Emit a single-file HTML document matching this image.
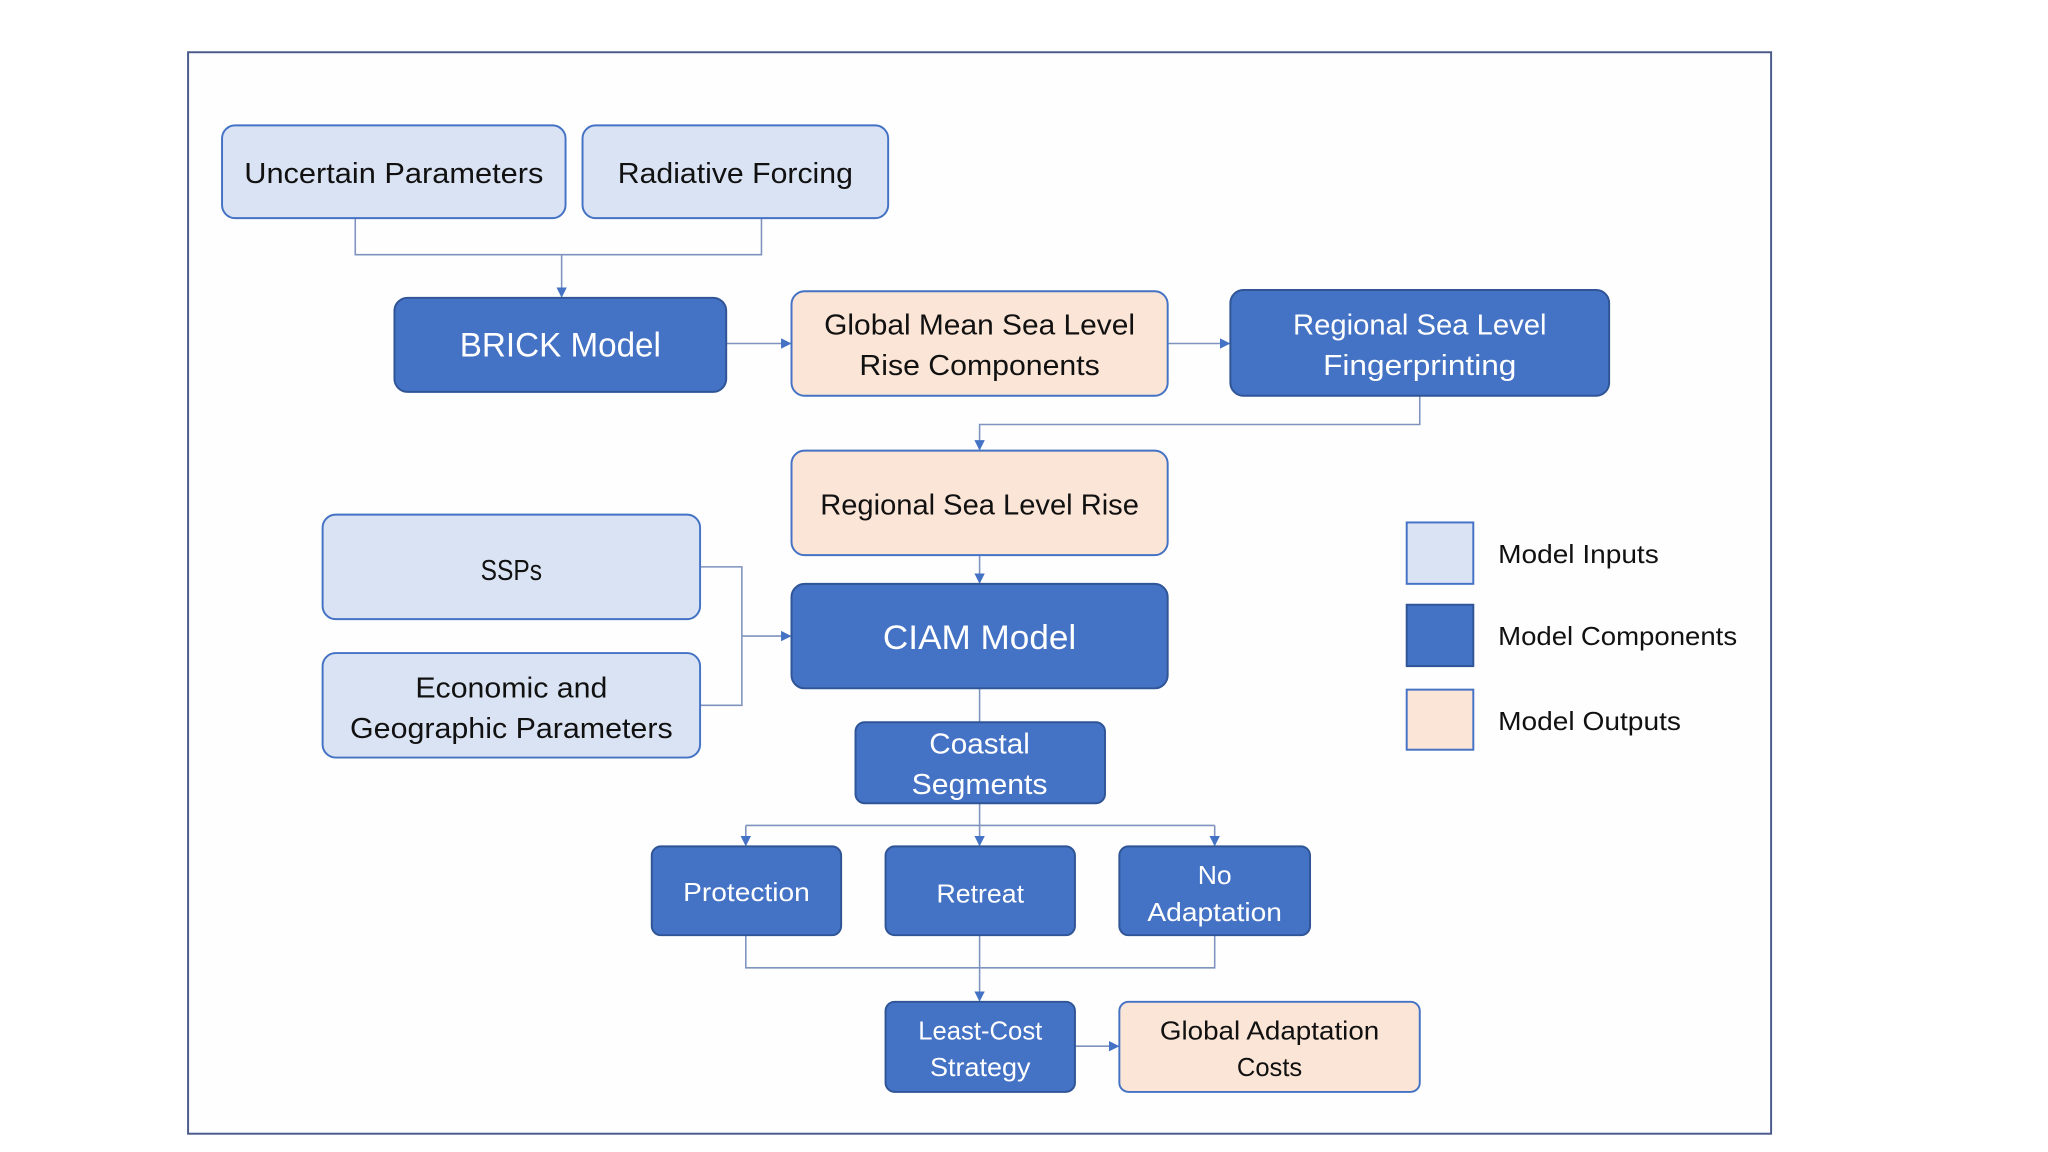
<!DOCTYPE html>
<html><head><meta charset="utf-8"><style>html,body{margin:0;padding:0;background:#fff}svg{display:block}</style></head>
<body>
<svg width="2048" height="1152" viewBox="0 0 1568 882" xmlns="http://www.w3.org/2000/svg" font-family="Liberation Sans, sans-serif">
<defs><marker id="a" markerWidth="8" markerHeight="8" refX="7" refY="4" orient="auto" markerUnits="userSpaceOnUse"><path d="M0,0 L8,4 L0,8 z" fill="#4472c4"/></marker></defs>
<rect x="0" y="0" width="1568" height="882" fill="#fff"/>
<rect x="144" y="40" width="1212" height="828" fill="#fefefe" stroke="#4a5a8a" stroke-width="1.5"/>
<g fill="none" stroke="#7f93bf" stroke-width="1.2">
<path d="M272,167 V195 H583 V167"/><path d="M430,195 V227" marker-end="url(#a)"/>
<path d="M556,263 H605" marker-end="url(#a)"/><path d="M894,263 H941" marker-end="url(#a)"/>
<path d="M1087,303 V325 H750 V344" marker-end="url(#a)"/>
<path d="M750,425 V446" marker-end="url(#a)"/>
<path d="M536,434 H568 V540 H536"/><path d="M568,487 H605" marker-end="url(#a)"/>
<path d="M750,527 V553"/>
<path d="M750,615 V632"/><path d="M571,632 H930"/>
<path d="M571,632 V647" marker-end="url(#a)"/><path d="M750,632 V647" marker-end="url(#a)"/><path d="M930,632 V647" marker-end="url(#a)"/>
<path d="M571,716 V741 H930 V716"/><path d="M750,716 V766" marker-end="url(#a)"/>
<path d="M823,801 H856" marker-end="url(#a)"/>
</g>
<g stroke-width="1.5">
<rect x="170" y="96" width="263" height="71" rx="10" fill="#dae3f3" stroke="#4472c4"/>
<rect x="446" y="96" width="234" height="71" rx="10" fill="#dae3f3" stroke="#4472c4"/>
<rect x="302" y="228" width="254" height="72" rx="10" fill="#4472c4" stroke="#2f5597"/>
<rect x="606" y="223" width="288" height="80" rx="10" fill="#fbe5d6" stroke="#4472c4"/>
<rect x="942" y="222" width="290" height="81" rx="10" fill="#4472c4" stroke="#2f5597"/>
<rect x="606" y="345" width="288" height="80" rx="10" fill="#fbe5d6" stroke="#4472c4"/>
<rect x="247" y="394" width="289" height="80" rx="10" fill="#dae3f3" stroke="#4472c4"/>
<rect x="247" y="500" width="289" height="80" rx="10" fill="#dae3f3" stroke="#4472c4"/>
<rect x="606" y="447" width="288" height="80" rx="10" fill="#4472c4" stroke="#2f5597"/>
<rect x="655" y="553" width="191" height="62" rx="7" fill="#4472c4" stroke="#2f5597"/>
<rect x="499" y="648" width="145" height="68" rx="7" fill="#4472c4" stroke="#2f5597"/>
<rect x="678" y="648" width="145" height="68" rx="7" fill="#4472c4" stroke="#2f5597"/>
<rect x="857" y="648" width="146" height="68" rx="7" fill="#4472c4" stroke="#2f5597"/>
<rect x="678" y="767" width="145" height="69" rx="7" fill="#4472c4" stroke="#2f5597"/>
<rect x="857" y="767" width="230" height="69" rx="7" fill="#fbe5d6" stroke="#4472c4"/>
<rect x="1077" y="400" width="51" height="47" fill="#dae3f3" stroke="#4472c4"/>
<rect x="1077" y="463" width="51" height="47" fill="#4472c4" stroke="#2f5597"/>
<rect x="1077" y="528" width="51" height="46" fill="#fbe5d6" stroke="#4472c4"/>
</g>
<g font-size="22" fill="#111" text-anchor="middle" lengthAdjust="spacingAndGlyphs">
<text x="301.5" y="140" textLength="229" lengthAdjust="spacingAndGlyphs">Uncertain Parameters</text>
<text x="563" y="140" textLength="180" lengthAdjust="spacingAndGlyphs">Radiative Forcing</text>
<text x="750" y="256" textLength="238" lengthAdjust="spacingAndGlyphs">Global Mean Sea Level</text>
<text x="750" y="287" textLength="184" lengthAdjust="spacingAndGlyphs">Rise Components</text>
<text x="750" y="394" textLength="244" lengthAdjust="spacingAndGlyphs">Regional Sea Level Rise</text>
<text x="391.5" y="444" textLength="47" lengthAdjust="spacingAndGlyphs">SSPs</text>
<text x="391.5" y="534" textLength="147" lengthAdjust="spacingAndGlyphs">Economic and</text>
<text x="391.5" y="565" textLength="247" lengthAdjust="spacingAndGlyphs">Geographic Parameters</text>
<text x="972" y="796" font-size="20" textLength="168" lengthAdjust="spacingAndGlyphs">Global Adaptation</text>
<text x="972" y="824" font-size="20" textLength="50" lengthAdjust="spacingAndGlyphs">Costs</text>
</g>
<g font-size="22" fill="#fff" text-anchor="middle">
<text x="429" y="273" font-size="26" textLength="154" lengthAdjust="spacingAndGlyphs">BRICK Model</text>
<text x="1087" y="256" textLength="194" lengthAdjust="spacingAndGlyphs">Regional Sea Level</text>
<text x="1087" y="287" textLength="148" lengthAdjust="spacingAndGlyphs">Fingerprinting</text>
<text x="750" y="497" font-size="26" textLength="148" lengthAdjust="spacingAndGlyphs">CIAM Model</text>
<text x="750" y="577" textLength="77" lengthAdjust="spacingAndGlyphs">Coastal</text>
<text x="750" y="608" textLength="104" lengthAdjust="spacingAndGlyphs">Segments</text>
<text x="571.5" y="690" font-size="20" textLength="97" lengthAdjust="spacingAndGlyphs">Protection</text>
<text x="750.5" y="691" font-size="20" textLength="67" lengthAdjust="spacingAndGlyphs">Retreat</text>
<text x="930" y="677" font-size="20" textLength="26" lengthAdjust="spacingAndGlyphs">No</text>
<text x="930" y="705" font-size="20" textLength="103" lengthAdjust="spacingAndGlyphs">Adaptation</text>
<text x="750.5" y="796" font-size="20" textLength="95" lengthAdjust="spacingAndGlyphs">Least-Cost</text>
<text x="750.5" y="824" font-size="20" textLength="77" lengthAdjust="spacingAndGlyphs">Strategy</text>
</g>
<g font-size="20" fill="#111">
<text x="1147" y="431" textLength="123" lengthAdjust="spacingAndGlyphs">Model Inputs</text>
<text x="1147" y="494" textLength="183" lengthAdjust="spacingAndGlyphs">Model Components</text>
<text x="1147" y="559" textLength="140" lengthAdjust="spacingAndGlyphs">Model Outputs</text>
</g>
</svg>
</body></html>
